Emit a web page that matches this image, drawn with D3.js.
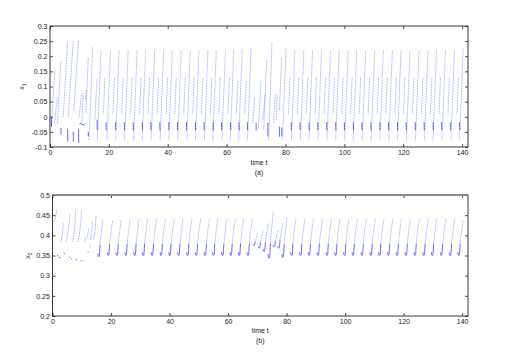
<!DOCTYPE html>
<html>
<head>
<meta charset="utf-8">
<script src="https://cdn.jsdelivr.net/npm/d3@7"></script>
<style>
  body { margin: 0; background: #fff; }
  svg { display: block; font-family: "Liberation Sans", Arial, sans-serif; }
</style>
</head>
<body>
<svg id="chart" width="517" height="356"></svg>
<script>
// ---- data ----
const xTicks = [0, 20, 40, 60, 80, 100, 120, 140];
const x1Ticks = [-0.1, -0.05, 0, 0.05, 0.1, 0.15, 0.2, 0.25, 0.3];
const x2Ticks = [0.2, 0.25, 0.3, 0.35, 0.4, 0.45, 0.5];

// x1, regular part: time of each main ramp top, its height, height of the second ramp
const rampT = [17.3, 20.55, 23.5, 26.55, 29.6, 32.5, 35.55, 38.6, 41.55, 44.6, 47.65, 50.6, 53.65, 56.5, 59.6, 62.45, 65.3, 68.3,
  80.2, 83.2, 86.25, 89.2, 92.25, 95.3, 98.25, 101.3, 104.2, 107.25, 110.3, 113.25, 116.3, 119.25, 122.3, 125.35, 128.4, 131.3, 134.35, 137.4, 140.35];
const rampPeak = [0.218, 0.22, 0.22, 0.22, 0.22, 0.22, 0.22, 0.22, 0.22, 0.22, 0.22, 0.22, 0.22, 0.218, 0.22, 0.222, 0.225, 0.23,
  0.23, 0.22, 0.22, 0.22, 0.22, 0.22, 0.22, 0.22, 0.22, 0.22, 0.22, 0.22, 0.22, 0.22, 0.22, 0.22, 0.22, 0.22, 0.22, 0.22, 0.226];
const midPeak = [0.13, 0.13, 0.13, 0.13, 0.13, 0.13, 0.13, 0.13, 0.13, 0.13, 0.13, 0.13, 0.13, 0.13, 0.13, 0.12, 0.12, null,
  0.13, 0.13, 0.13, 0.13, 0.13, 0.13, 0.13, 0.13, 0.13, 0.13, 0.13, 0.13, 0.13, 0.13, 0.13, 0.13, 0.13, 0.13, 0.13, 0.13, null];
// one regular x1 cycle, relative to the ramp top
const rampRise = 1.2, rampLow = -0.077;
const midFrom = 0.85, midTo = 1.35, midLow = 0.01;
const lowAt = 1.75, lowTop = -0.018, lowBottom = -0.045;

// x1, irregular stretches (start and around t = 70)
const x1Light = [
  [[0.5, -0.033], [1.69, 0.157]], [[1.5, -0.022], [2.5, 0.064]], [[2.5, -0.022], [3.7, 0.182]],
  [[4.5, 0.0], [6.0, 0.248]], [[6.2, 0.0], [7.9, 0.253]], [[8.1, 0.017], [9.7, 0.255]],
  [[9.9, 0.0], [10.7, 0.072]], [[10.8, -0.02], [11.3, 0.08]], [[11.9, 0.055], [12.4, 0.088]],
  [[12.2, 0.011], [13.0, 0.196]], [[13.3, -0.077], [14.5, 0.232]], [[15.2, -0.01], [16.0, 0.124]],
  [[68.9, -0.02], [69.5, 0.066]], [[70.8, -0.038], [71.7, 0.12]], [[72.3, -0.01], [73.05, 0.072]],
  [[72.6, -0.044], [73.6, 0.187]], [[74.3, -0.077], [75.4, 0.245]], [[75.9, -0.022], [76.6, 0.078]],
  [[76.8, -0.011], [77.2, 0.072]], [[77.9, 0.022], [78.7, 0.196]]
];
const x1Dark = [
  [[0.45, 0.0], [0.5, -0.033]], [[3.7, -0.038], [3.75, -0.06]], [[6.0, -0.04], [6.05, -0.082]],
  [[7.9, -0.05], [7.95, -0.082]], [[9.7, -0.04], [9.75, -0.088]], [[10.0, -0.022], [11.8, -0.028]],
  [[13.0, -0.05], [13.05, -0.065]], [[16.0, -0.01], [16.05, -0.045]],
  [[70.0, -0.02], [70.05, -0.045]], [[74.0, -0.02], [74.05, -0.065]], [[77.9, -0.033], [77.95, -0.066]],
  [[78.7, -0.035], [78.75, -0.065]]
];

// x2: time of each hook top, top value, bottom value
const jT = [17.3, 20.55, 23.5, 26.55, 29.6, 32.5, 35.55, 38.6, 41.55, 44.6, 47.65, 50.6, 53.65, 56.5, 59.6, 62.45, 65.3, 68.3,
  70.3, 72.1, 73.8, 75.5, 77.2, 78.8,
  80.2, 83.2, 86.25, 89.2, 92.25, 95.3, 98.25, 101.3, 104.2, 107.25, 110.3, 113.25, 116.3, 119.25, 122.3, 125.35, 128.4, 131.3, 134.35, 137.4, 140.35];
const jPeak = [0.44, 0.437, 0.437, 0.44, 0.44, 0.44, 0.44, 0.44, 0.44, 0.44, 0.44, 0.44, 0.44, 0.44, 0.44, 0.44, 0.44, 0.44,
  0.405, 0.413, 0.43, 0.457, 0.413, 0.43,
  0.445, 0.44, 0.44, 0.44, 0.44, 0.44, 0.44, 0.44, 0.44, 0.44, 0.44, 0.44, 0.44, 0.44, 0.44, 0.44, 0.44, 0.44, 0.44, 0.44, 0.437];
const jDip = [0.347, 0.35, 0.35, 0.35, 0.35, 0.35, 0.35, 0.35, 0.35, 0.35, 0.35, 0.35, 0.35, 0.35, 0.35, 0.35, 0.35, 0.35,
  0.375, 0.368, 0.36, 0.343, 0.372, 0.368,
  0.345, 0.35, 0.35, 0.35, 0.35, 0.35, 0.35, 0.35, 0.35, 0.35, 0.35, 0.35, 0.35, 0.35, 0.35, 0.35, 0.35, 0.35, 0.35, 0.35, 0.35];
// one regular hook: time offset from the top, share of the dip-to-top height
const hookDt = [-1.8, -1.7, -1.48, -1.26, -1.14, -1.03, -0.8, -0.46, 0];
const hookFrac = [0.09, 0.02, 0, 0.04, 0.19, 0.32, 0.51, 0.74, 1];

// x2, start of the run
const x2EarlyRise = [
  [[0, 0.434], [0.5, 0.434], [1.43, 0.463]],
  [[2.8, 0.384], [3.3, 0.4], [3.7, 0.43]],
  [[4.6, 0.384], [5.4, 0.41], [6.0, 0.455]],
  [[6.8, 0.384], [7.5, 0.415], [8.0, 0.465]],
  [[8.6, 0.384], [9.4, 0.415], [10.0, 0.466]],
  [[11.1, 0.384], [11.15, 0.397]],
  [[11.7, 0.39], [12.4, 0.415]],
  [[12.8, 0.368], [12.85, 0.38]],
  [[13.1, 0.388], [13.7, 0.436]],
  [[14.1, 0.39], [14.5, 0.41], [14.9, 0.45]]
];
const x2EarlyLow = [
  [[1.65, 0.351], [2.0, 0.346], [2.8, 0.344]],
  [[3.9, 0.357], [4.1, 0.354]],
  [[5.7, 0.347], [6.6, 0.339]],
  [[8.0, 0.34], [8.4, 0.34]],
  [[9.7, 0.338], [10.1, 0.335], [10.6, 0.338]],
  [[12.0, 0.36], [12.3, 0.358]]
];

// ---- drawing ----
const svg = d3.select("#chart");
const light = { stroke: "#2a3bff", width: 0.9, opacity: 0.45, dash: "1,0.6" };
const dense = { stroke: "#2a3bff", width: 1, opacity: 0.75, dash: null };

function panel(id, box, yDomain, yTicks, sub, ylabX, xlabY, tag, topEdge) {
  const x = d3.scaleLinear().domain([0, 142]).range([box.l, box.r]);
  const y = d3.scaleLinear().domain(yDomain).range([box.b, box.t]);
  const g = svg.append("g");

  svg.append("defs").append("clipPath").attr("id", "clip-" + id)
    .append("rect").attr("x", box.l).attr("y", box.t)
    .attr("width", box.r - box.l).attr("height", box.b - box.t);

  const fmt = (d) => String(+d.toFixed(2));
  const styleAxis = (sel) => {
    sel.select(".domain").remove();
    sel.selectAll("line").attr("stroke", "#222").attr("stroke-width", 0.8);
    sel.selectAll("text").attr("fill", "#222").attr("font-size", 7).attr("font-family", null);
  };

  g.append("g").attr("transform", `translate(0,${box.b})`)
    .call(d3.axisBottom(x).tickValues(xTicks).tickSize(-3).tickPadding(3.5).tickFormat(fmt)).call(styleAxis);
  g.append("g").attr("transform", `translate(0,${box.t})`)
    .call(d3.axisTop(x).tickValues(xTicks).tickSize(-3).tickFormat("")).call(styleAxis);
  g.append("g").attr("transform", `translate(${box.l},0)`)
    .call(d3.axisLeft(y).tickValues(yTicks).tickSize(-3).tickPadding(2.6).tickFormat(fmt)).call(styleAxis);
  g.append("g").attr("transform", `translate(${box.r},0)`)
    .call(d3.axisRight(y).tickValues(yTicks).tickSize(-3).tickFormat("")).call(styleAxis);

  g.append("rect").attr("x", box.l).attr("y", box.t)
    .attr("width", box.r - box.l).attr("height", box.b - box.t)
    .attr("fill", "none").attr("stroke", "#222").attr("stroke-width", 0.9);
  if (topEdge) {
    g.append("line").attr("x1", box.l).attr("x2", box.r).attr("y1", box.t).attr("y2", box.t)
      .attr("stroke", topEdge).attr("stroke-width", 1.4);
  }

  const cx = (box.l + box.r) / 2;
  g.append("text").attr("x", cx).attr("y", xlabY).attr("text-anchor", "middle")
    .attr("font-size", 7).attr("fill", "#222").text("time t");
  g.append("text").attr("x", cx).attr("y", xlabY + 9.5).attr("text-anchor", "middle")
    .attr("font-size", 7).attr("fill", "#222").text(tag);

  const yl = g.append("text")
    .attr("transform", `translate(${ylabX},${(box.t + box.b) / 2}) rotate(-90)`)
    .attr("text-anchor", "middle").attr("font-size", 7).attr("fill", "#222");
  yl.append("tspan").text("x");
  yl.append("tspan").attr("font-size", 5).attr("dy", 2).text(sub);

  const plot = svg.append("g").attr("clip-path", `url(#clip-${id})`);
  const line = d3.line().x((d) => x(d[0])).y((d) => y(d[1]));
  const curve = d3.line().x((d) => x(d[0])).y((d) => y(d[1])).curve(d3.curveMonotoneX);

  const draw = (data, st, gen) => {
    plot.append("g").selectAll("path").data(data).join("path")
      .attr("d", gen || line)
      .attr("fill", "none")
      .attr("stroke", st.stroke)
      .attr("stroke-width", st.width)
      .attr("stroke-opacity", st.opacity)
      .attr("stroke-dasharray", st.dash);
  };
  return { draw, line, curve };
}

// panel (a): x1
const pa = panel("a", { l: 50, r: 468, t: 26, b: 147 }, [-0.1, 0.3], x1Ticks, "1", 24, 165.2, "(a)", null);
const topLight = x1Light.slice();
const topDark = x1Dark.slice();
rampT.forEach((t, i) => {
  topLight.push([[t - rampRise, rampLow], [t, rampPeak[i]]]);
  if (midPeak[i] != null) {
    topLight.push([[t + midFrom, midLow], [t + midTo, midPeak[i]]]);
    topDark.push([[t + lowAt, lowTop], [t + lowAt + 0.05, lowBottom]]);
  }
});
pa.draw(topLight, light);
pa.draw(topDark, dense);

// panel (b): x2
const pb = panel("b", { l: 52.5, r: 468, t: 195, b: 316 }, [0.2, 0.5], x2Ticks, "2", 30, 333.2, "(b)", "#888");
const hookLow = [];
const hookHigh = [];
jT.forEach((t, i) => {
  const pts = hookDt.map((dt, k) => [t + dt, jDip[i] + hookFrac[k] * (jPeak[i] - jDip[i])]);
  hookLow.push(pts.slice(0, 6));
  hookHigh.push(pts.slice(5));
});
pb.draw(x2EarlyRise, light, pb.curve);
pb.draw(hookHigh, light, pb.curve);
pb.draw(hookLow, dense, pb.curve);
pb.draw(x2EarlyLow, { stroke: "#2a3bff", width: 1, opacity: 0.75, dash: "1.5,1.5" });
</script>
</body>
</html>
